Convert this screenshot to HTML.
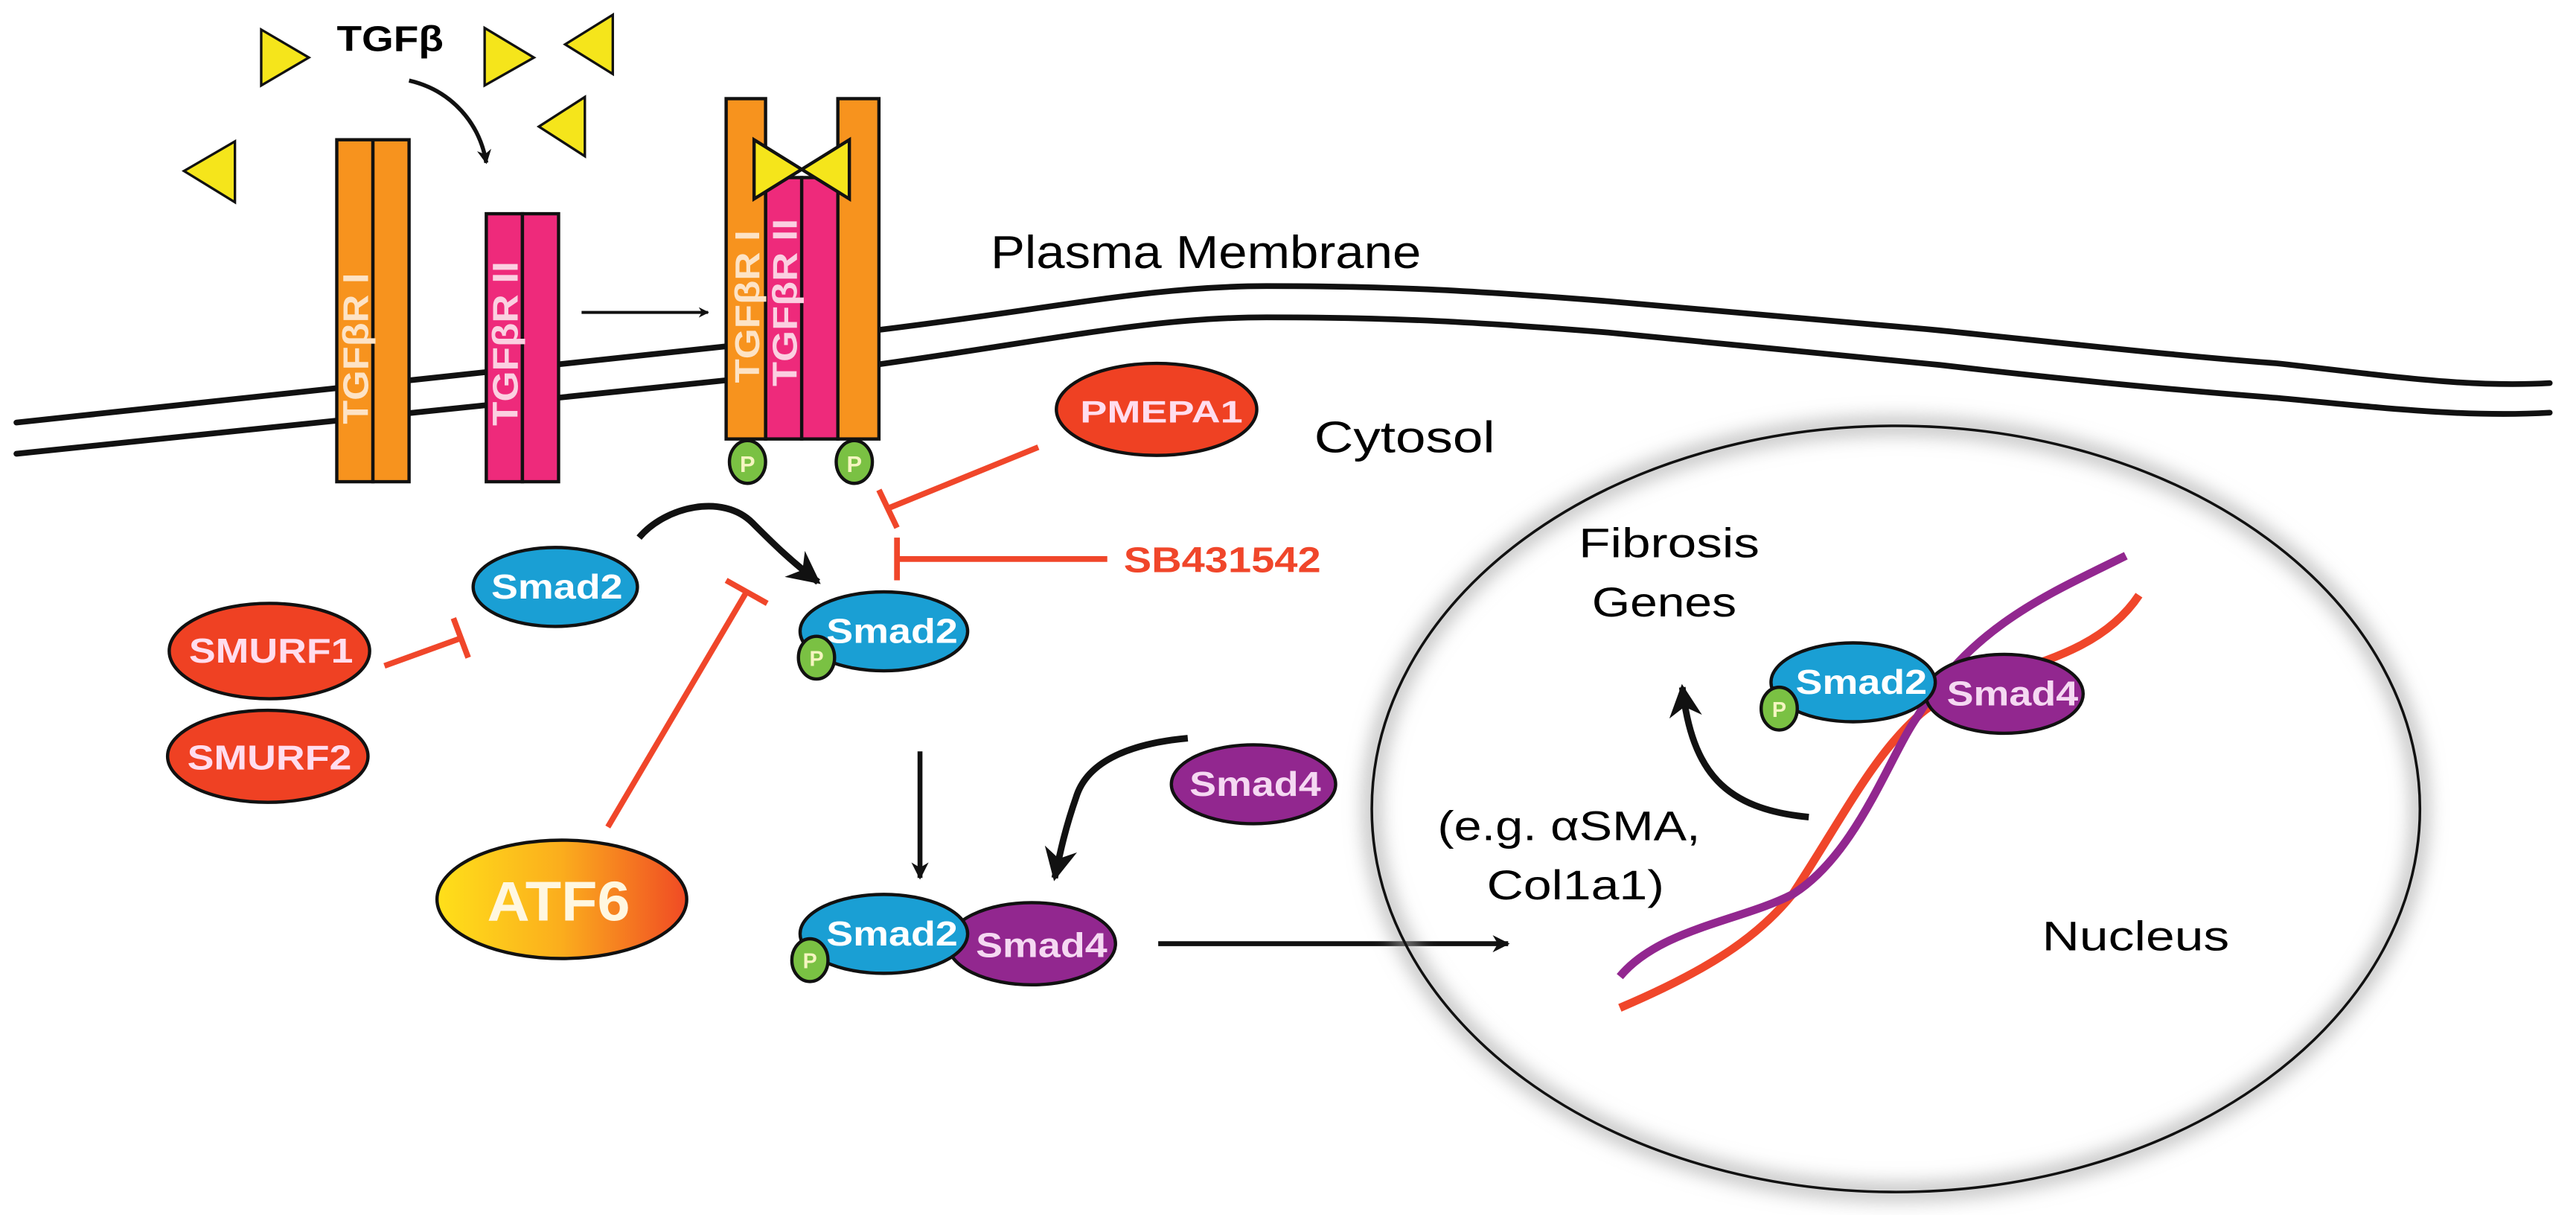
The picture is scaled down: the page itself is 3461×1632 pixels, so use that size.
<!DOCTYPE html>
<html><head><meta charset="utf-8"><style>
html,body{margin:0;padding:0;background:#fff;}
svg{display:block;}
text{font-family:"Liberation Sans",sans-serif;}
</style></head><body>
<svg width="3461" height="1632" viewBox="0 0 1568 739" preserveAspectRatio="none" xmlns="http://www.w3.org/2000/svg">
<defs>
<linearGradient id="atf" x1="0" x2="1" y1="0" y2="0">
<stop offset="0" stop-color="#ffe01a"/><stop offset="0.5" stop-color="#fbad1d"/><stop offset="1" stop-color="#f04a24"/></linearGradient>
<filter id="sh" x="-10%" y="-10%" width="120%" height="120%"><feGaussianBlur stdDeviation="6"/></filter>
<marker id="ah" viewBox="0 0 10 10" refX="9" refY="5" markerWidth="5" markerHeight="5" orient="auto"><path d="M0,0 L10,5 L0,10 L3,5z" fill="#111"/></marker>
<marker id="ahb" viewBox="0 0 10 10" refX="9" refY="5" markerWidth="3.5" markerHeight="3.5" orient="auto"><path d="M0,0 L10,5 L0,10 L3,5z" fill="#111"/></marker>
</defs>
<g fill="none" stroke="#111" stroke-width="3.5" stroke-linecap="round">
<path d="M10,257 C250,232 420,213 532,201 C640,188 700,174 771,174 C850,174 900,177 976,183 C1060,190 1120,195 1181,201 C1250,208 1320,216 1386,221 C1450,228 1500,236 1552,233"/>
<path d="M10,276 C250,251 420,233 532,222 C640,207 700,193 771,193 C850,193 900,196 976,202 C1060,210 1120,216 1181,222 C1250,230 1320,237 1386,242 C1450,248 1500,254 1552,251"/>
</g>
<g stroke="#111" stroke-width="1.5">
<polygon points="159,18 188,35 159,52" fill="#f5e51b"/>
<polygon points="295,17 325,35 295,52" fill="#f5e51b"/>
<polygon points="373,9 344,27 373,45" fill="#f5e51b"/>
<polygon points="356,59 328,77 356,95" fill="#f5e51b"/>
<polygon points="143,86 112,104 143,123" fill="#f5e51b"/>
</g>
<text x="205" y="31" font-size="22" font-weight="bold" textLength="65" lengthAdjust="spacingAndGlyphs">TGFβ</text>
<path d="M249,49 C275,55 292,75 296,99" fill="none" stroke="#111" stroke-width="2.5" marker-end="url(#ahb)"/>
<g stroke="#111" stroke-width="2">
<rect x="205" y="85" width="22" height="208" fill="#f7931e"/><rect x="227" y="85" width="22" height="208" fill="#f7931e"/>
<rect x="296" y="130" width="22" height="163" fill="#ee2a7b"/><rect x="318" y="130" width="22" height="163" fill="#ee2a7b"/>
</g>
<text transform="translate(224,258) rotate(-90)" font-size="22" font-weight="bold" fill="#fde3c6" textLength="92" lengthAdjust="spacingAndGlyphs">TGFβR I</text>
<text transform="translate(315,259) rotate(-90)" font-size="22" font-weight="bold" fill="#fbd0e1" textLength="100" lengthAdjust="spacingAndGlyphs">TGFβR II</text>
<line x1="354" y1="190" x2="431" y2="190" stroke="#111" stroke-width="1.8" marker-end="url(#ahb)"/>
<g stroke="#111" stroke-width="2">
<rect x="466" y="108" width="22" height="159" fill="#ee2a7b"/><rect x="488" y="108" width="22" height="159" fill="#ee2a7b"/>
<rect x="442" y="60" width="24" height="207" fill="#f7931e"/><rect x="510" y="60" width="25" height="207" fill="#f7931e"/>
<polygon points="459,85 488,103 459,121" fill="#f5e51b"/>
<polygon points="517,85 488,103 517,121" fill="#f5e51b"/>
</g>
<text transform="translate(462,233) rotate(-90)" font-size="21" font-weight="bold" fill="#fde3c6" textLength="93" lengthAdjust="spacingAndGlyphs">TGFβR I</text>
<text transform="translate(485,235) rotate(-90)" font-size="21" font-weight="bold" fill="#fbd0e1" textLength="102" lengthAdjust="spacingAndGlyphs">TGFβR II</text>
<g stroke="#111" stroke-width="2" fill="#7ac143">
<ellipse cx="455" cy="281" rx="11" ry="13"/><ellipse cx="520" cy="281" rx="11" ry="13"/></g>
<text x="455" y="287" font-size="14" font-weight="bold" fill="#f5f5c0" text-anchor="middle">P</text>
<text x="520" y="287" font-size="14" font-weight="bold" fill="#f5f5c0" text-anchor="middle">P</text>
<text x="603" y="163" font-size="28" textLength="262" lengthAdjust="spacingAndGlyphs">Plasma Membrane</text>
<text x="800" y="275" font-size="27" textLength="110" lengthAdjust="spacingAndGlyphs">Cytosol</text>
<g stroke="#f0462a" stroke-width="3.5" fill="none">
<line x1="632" y1="272" x2="541" y2="309"/><line x1="535" y1="298" x2="546" y2="321"/>
<line x1="674" y1="340" x2="546" y2="340"/><line x1="546" y1="327" x2="546" y2="353"/>
<line x1="234" y1="405" x2="281" y2="388"/><line x1="276" y1="376" x2="285" y2="400"/>
<line x1="370" y1="503" x2="455" y2="359"/><line x1="442" y1="353" x2="467" y2="367"/>
</g>
<text x="684" y="348" font-size="22" font-weight="bold" fill="#f0462a" textLength="120" lengthAdjust="spacingAndGlyphs">SB431542</text>
<ellipse cx="704" cy="249" rx="61" ry="28" fill="#ef4123" stroke="#111" stroke-width="2"/>
<text x="707" y="257" font-size="19" font-weight="bold" fill="#fde" text-anchor="middle" textLength="99" lengthAdjust="spacingAndGlyphs">PMEPA1</text>
<path d="M389,327 C405,308 440,300 458,318 C470,330 480,340 498,354" fill="none" stroke="#111" stroke-width="4" marker-end="url(#ah)"/>
<ellipse cx="338" cy="357" rx="50" ry="24" fill="#1a9fd4" stroke="#111" stroke-width="2"/>
<text x="339" y="364" font-size="21" font-weight="bold" fill="#fff" text-anchor="middle" textLength="80" lengthAdjust="spacingAndGlyphs">Smad2</text>
<ellipse cx="538" cy="384" rx="51" ry="24" fill="#1a9fd4" stroke="#111" stroke-width="2"/>
<text x="543" y="391" font-size="21" font-weight="bold" fill="#fff" text-anchor="middle" textLength="80" lengthAdjust="spacingAndGlyphs">Smad2</text>
<ellipse cx="497" cy="400" rx="11" ry="13" fill="#7ac143" stroke="#111" stroke-width="2"/>
<text x="497" y="405" font-size="13" font-weight="bold" fill="#f5f5c0" text-anchor="middle">P</text>
<ellipse cx="164" cy="396" rx="61" ry="29" fill="#ef4123" stroke="#111" stroke-width="2"/>
<text x="165" y="403" font-size="21" font-weight="bold" fill="#fde" text-anchor="middle" textLength="100" lengthAdjust="spacingAndGlyphs">SMURF1</text>
<ellipse cx="163" cy="460" rx="61" ry="28" fill="#ef4123" stroke="#111" stroke-width="2"/>
<text x="164" y="468" font-size="21" font-weight="bold" fill="#fde" text-anchor="middle" textLength="100" lengthAdjust="spacingAndGlyphs">SMURF2</text>
<ellipse cx="342" cy="547" rx="76" ry="36" fill="url(#atf)" stroke="#111" stroke-width="2"/>
<text x="340" y="560" font-size="34" font-weight="bold" fill="#fff7e0" text-anchor="middle" textLength="87" lengthAdjust="spacingAndGlyphs">ATF6</text>
<line x1="560" y1="457" x2="560" y2="534" stroke="#111" stroke-width="3" marker-end="url(#ahb)"/>
<path d="M723,449 C690,452 662,462 655,485 C648,505 645,520 642,534" fill="none" stroke="#111" stroke-width="4" marker-end="url(#ah)"/>
<ellipse cx="763" cy="477" rx="50" ry="24" fill="#92278f" stroke="#111" stroke-width="2"/>
<text x="764" y="484" font-size="21" font-weight="bold" fill="#f5d8f2" text-anchor="middle" textLength="80" lengthAdjust="spacingAndGlyphs">Smad4</text>
<ellipse cx="628" cy="574" rx="51" ry="25" fill="#92278f" stroke="#111" stroke-width="2"/>
<ellipse cx="538" cy="568" rx="51" ry="24" fill="#1a9fd4" stroke="#111" stroke-width="2"/>
<text x="543" y="575" font-size="21" font-weight="bold" fill="#fff" text-anchor="middle" textLength="80" lengthAdjust="spacingAndGlyphs">Smad2</text>
<text x="634" y="582" font-size="21" font-weight="bold" fill="#f5d8f2" text-anchor="middle" textLength="80" lengthAdjust="spacingAndGlyphs">Smad4</text>
<ellipse cx="493" cy="584" rx="11" ry="13" fill="#7ac143" stroke="#111" stroke-width="2"/>
<text x="493" y="589" font-size="13" font-weight="bold" fill="#f5f5c0" text-anchor="middle">P</text>
<line x1="705" y1="574" x2="918" y2="574" stroke="#111" stroke-width="3" marker-end="url(#ahb)"/>
<ellipse cx="1154" cy="492" rx="319" ry="233" fill="none" stroke="#aaa" stroke-width="8" filter="url(#sh)"/>
<ellipse cx="1154" cy="492" rx="319" ry="233" fill="none" stroke="#111" stroke-width="1.6"/>
<path d="M986,613 C1040,590 1070,570 1091,544 C1120,500 1140,460 1167,436 C1200,405 1270,410 1302,362" fill="none" stroke="#f0462a" stroke-width="5"/>
<path d="M986,594 C1010,565 1060,560 1091,544 C1130,520 1150,460 1167,436 C1200,380 1250,360 1294,338" fill="none" stroke="#92278f" stroke-width="5"/>
<path d="M1101,497 C1050,492 1030,470 1024,418" fill="none" stroke="#111" stroke-width="4" marker-end="url(#ah)"/>
<ellipse cx="1220" cy="422" rx="48" ry="24" fill="#92278f" stroke="#111" stroke-width="2"/>
<ellipse cx="1128" cy="415" rx="50" ry="24" fill="#1a9fd4" stroke="#111" stroke-width="2"/>
<text x="1133" y="422" font-size="21" font-weight="bold" fill="#fff" text-anchor="middle" textLength="80" lengthAdjust="spacingAndGlyphs">Smad2</text>
<text x="1225" y="429" font-size="21" font-weight="bold" fill="#f5d8f2" text-anchor="middle" textLength="80" lengthAdjust="spacingAndGlyphs">Smad4</text>
<ellipse cx="1083" cy="431" rx="11" ry="13" fill="#7ac143" stroke="#111" stroke-width="2"/>
<text x="1083" y="436" font-size="13" font-weight="bold" fill="#f5f5c0" text-anchor="middle">P</text>
<text x="961" y="339" font-size="25" textLength="110" lengthAdjust="spacingAndGlyphs">Fibrosis</text>
<text x="969" y="375" font-size="25" textLength="88" lengthAdjust="spacingAndGlyphs">Genes</text>
<text x="875" y="511" font-size="25" textLength="160" lengthAdjust="spacingAndGlyphs">(e.g. αSMA,</text>
<text x="905" y="547" font-size="25" textLength="108" lengthAdjust="spacingAndGlyphs">Col1a1)</text>
<text x="1243" y="578" font-size="25" textLength="114" lengthAdjust="spacingAndGlyphs">Nucleus</text>
</svg>
</body></html>
